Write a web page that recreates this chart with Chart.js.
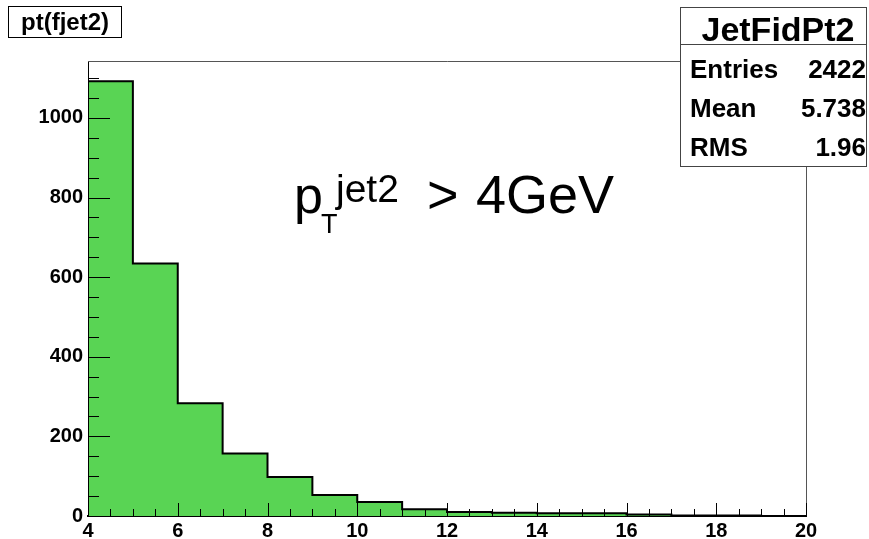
<!DOCTYPE html>
<html>
<head>
<meta charset="utf-8">
<script src="https://cdn.jsdelivr.net/npm/chart.js@4.4.0/dist/chart.umd.min.js"></script>
<style>
  html, body { margin: 0; padding: 0; background: #fff; }
  #wrap { width: 869px; height: 539px; position: relative; }
</style>
</head>
<body>
<div id="wrap"><canvas id="histo"></canvas></div>
<script>
// histogram pt(fjet2), 16 bins of 1 GeV from 4 to 20
const binEdges = [4, 5, 6, 7, 8, 9, 10, 11, 12, 13, 14, 15, 16, 17, 18, 19, 20];
const binCounts = [1092, 634, 283, 157, 98, 53, 35, 17, 10, 8, 7, 7, 4, 1, 1, 0];

const xTickValues = [4, 6, 8, 10, 12, 14, 16, 18, 20];
const yTickValues = [0, 200, 400, 600, 800, 1000];
const yMax = 1143;

const histTitle = "pt(fjet2)";
const statsTitle = "JetFidPt2";
const statsLabels = ["Entries", "Mean", "RMS"];
const statsValues = ["2422", "5.738", "1.96"];

const FONT = "'Liberation Sans', Arial, Helvetica, sans-serif";

// outline points for a stepped line (ROOT style histogram)
function buildOutline(edges, counts) {
  const pts = [{ x: edges[0], y: 0 }];
  for (let i = 0; i < counts.length; i++) {
    pts.push({ x: edges[i], y: counts[i] });
  }
  pts.push({ x: edges[edges.length - 1], y: counts[counts.length - 1] });
  pts.push({ x: edges[edges.length - 1], y: 0 });
  return pts;
}

const rootDecor = {
  id: "rootDecor",
  afterDatasetsDraw(chart) {
    const { ctx, chartArea: a, scales } = chart;
    const x = scales.x, y = scales.y;
    ctx.save();

    // frame top / right
    ctx.strokeStyle = "#555";
    ctx.lineWidth = 1;
    ctx.beginPath();
    ctx.moveTo(a.left, a.top + 0.5);
    ctx.lineTo(a.right + 0.5, a.top + 0.5);
    ctx.lineTo(a.right + 0.5, a.bottom);
    ctx.stroke();

    // inner ticks
    ctx.strokeStyle = "#000";
    ctx.beginPath();
    for (let v = 0; v <= yMax; v += 50) {
      const py = Math.round(y.getPixelForValue(v)) + 0.5;
      const len = v % 200 === 0 ? 22 : 11;
      ctx.moveTo(a.left, py);
      ctx.lineTo(a.left + len, py);
    }
    for (let v = 4; v <= 20; v += 0.5) {
      const px = Math.round(x.getPixelForValue(v)) + 0.5;
      const len = v % 2 === 0 ? 13 : 7;
      ctx.moveTo(px, a.bottom);
      ctx.lineTo(px, a.bottom - len);
    }
    ctx.stroke();

    // title box
    ctx.fillStyle = "#fff";
    ctx.fillRect(8, 6, 114, 32);
    ctx.strokeStyle = "#000";
    ctx.strokeRect(8.5, 6.5, 113, 31);
    ctx.fillStyle = "#000";
    ctx.font = "bold 24px " + FONT;
    ctx.textAlign = "center";
    ctx.textBaseline = "alphabetic";
    ctx.fillText(histTitle, 65, 30);

    // stats box
    ctx.fillStyle = "#fff";
    ctx.fillRect(680, 7, 186, 159);
    ctx.strokeStyle = "#444";
    ctx.strokeRect(680.5, 7.5, 186, 159);
    ctx.beginPath();
    ctx.moveTo(680, 44.5);
    ctx.lineTo(867, 44.5);
    ctx.stroke();
    ctx.fillStyle = "#000";
    ctx.font = "bold 34px " + FONT;
    ctx.textAlign = "center";
    ctx.fillText(statsTitle, 778, 41);
    ctx.font = "bold 26px " + FONT;
    for (let i = 0; i < statsLabels.length; i++) {
      const by = 78 + i * 39;
      ctx.textAlign = "left";
      ctx.fillText(statsLabels[i], 690, by);
      ctx.textAlign = "right";
      ctx.fillText(statsValues[i], 866, by);
    }

    // cut label  p_T^jet2 > 4GeV
    ctx.textAlign = "left";
    ctx.font = "52px " + FONT;
    ctx.fillText("p", 294, 213);
    ctx.font = "27px " + FONT;
    ctx.fillText("T", 321, 233);
    ctx.font = "39px " + FONT;
    ctx.fillText("jet2", 336, 202);
    ctx.font = "54px " + FONT;
    ctx.fillText(">", 427, 213);
    ctx.fillText("4GeV", 476, 213);

    ctx.restore();
  }
};

new Chart(document.getElementById("histo"), {
  type: "line",
  data: {
    datasets: [{
      data: buildOutline(binEdges, binCounts),
      stepped: true,
      fill: "origin",
      backgroundColor: "rgb(89,212,84)",
      borderColor: "#000",
      borderWidth: 2,
      pointRadius: 0,
      tension: 0
    }]
  },
  options: {
    responsive: true,
    maintainAspectRatio: false,
    animation: false,
    devicePixelRatio: 1,
    layout: { padding: { top: 61, right: 63, left: 0, bottom: 0 } },
    plugins: {
      legend: { display: false },
      tooltip: { enabled: false }
    },
    scales: {
      x: {
        type: "linear",
        min: 4,
        max: 20,
        afterBuildTicks: (s) => { s.ticks = xTickValues.map(v => ({ value: v })); },
        afterFit: (s) => { s.height = 23; },
        grid: { drawOnChartArea: false, drawTicks: false },
        border: { color: "#000", width: 2 },
        ticks: {
          color: "#000",
          padding: 3,
          maxRotation: 0,
          autoSkip: false,
          callback: (v) => String(v),
          font: { family: FONT, size: 20, weight: "bold" }
        }
      },
      y: {
        type: "linear",
        min: 0,
        max: yMax,
        afterBuildTicks: (s) => { s.ticks = yTickValues.map(v => ({ value: v })); },
        afterFit: (s) => { s.width = 88; },
        grid: { drawOnChartArea: false, drawTicks: false },
        border: { color: "#000", width: 1 },
        ticks: {
          color: "#000",
          padding: 5,
          autoSkip: false,
          callback: (v) => String(v),
          font: { family: FONT, size: 20, weight: "bold" }
        }
      }
    }
  },
  plugins: [rootDecor]
});
</script>
</body>
</html>
